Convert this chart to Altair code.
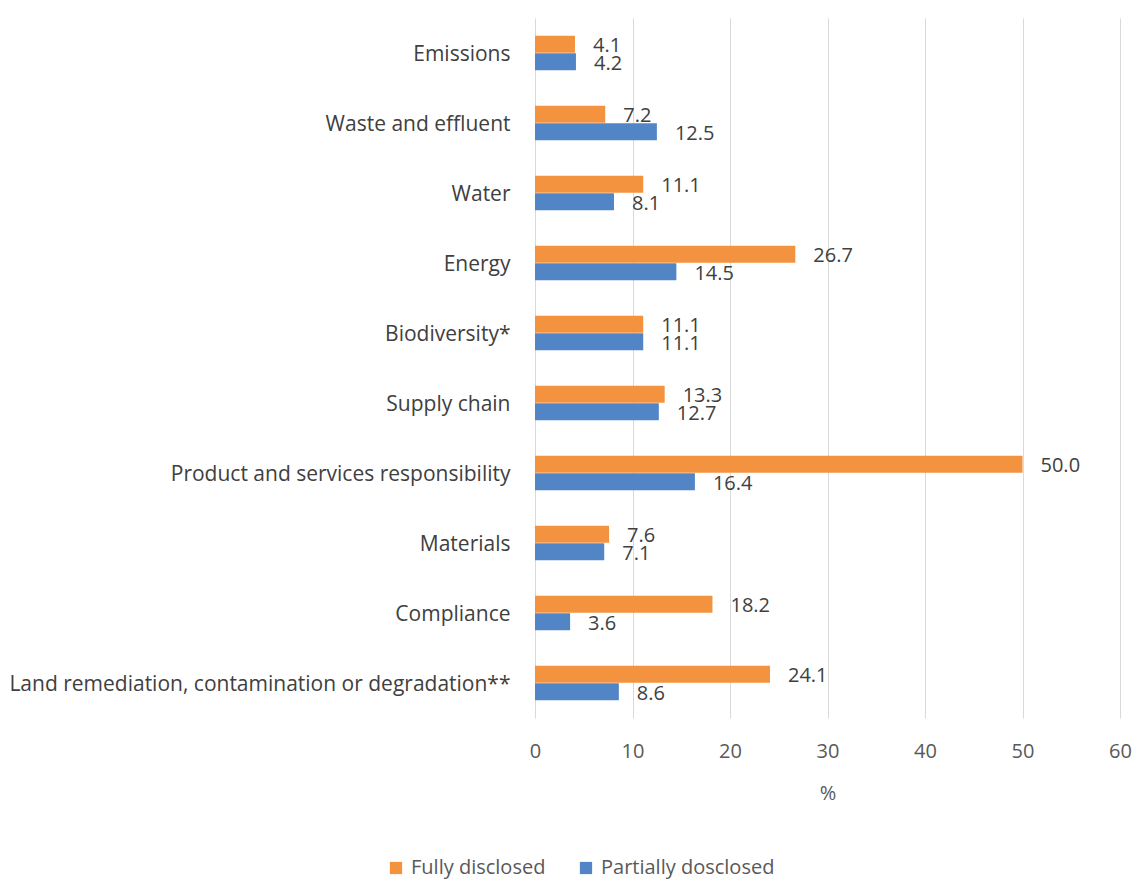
import altair as alt
import pandas as pd

categories = [
    "Emissions",
    "Waste and effluent",
    "Water",
    "Energy",
    "Biodiversity*",
    "Supply chain",
    "Product and services responsibility",
    "Materials",
    "Compliance",
    "Land remediation, contamination or degradation**",
]
fully = [4.1, 7.2, 11.1, 26.7, 11.1, 13.3, 50.0, 7.6, 18.2, 24.1]
partial = [4.2, 12.5, 8.1, 14.5, 11.1, 12.7, 16.4, 7.1, 3.6, 8.6]
series_names = ["Fully disclosed", "Partially dosclosed"]
series_colors = ["#F39340", "#5285C6"]
x_ticks = [0, 10, 20, 30, 40, 50, 60]

rows = []
for c, f, p in zip(categories, fully, partial):
    rows.append({"category": c, "series": series_names[0], "value": f})
    rows.append({"category": c, "series": series_names[1], "value": p})
df = pd.DataFrame(rows)

FONT = "Open Sans"

y_enc = alt.Y(
    "category:N",
    sort=categories,
    scale=alt.Scale(paddingInner=0.5, paddingOuter=0.25),
    axis=alt.Axis(
        title=None,
        domain=False,
        ticks=False,
        labelPadding=25,
        labelFontSize=21,
        labelColor="#404040",
        labelFont=FONT,
        labelLimit=600,
        labelOffset=2,
    ),
)
yoff = alt.YOffset("series:N", sort=series_names)

base = alt.Chart(df)

bars = base.mark_bar(size=17).encode(
    y=y_enc,
    yOffset=yoff,
    x=alt.X(
        "value:Q",
        scale=alt.Scale(domain=[0, 60], nice=False),
        axis=alt.Axis(
            values=x_ticks,
            title="%",
            titleFontSize=20,
            titleFontWeight="normal",
            titleColor="#595959",
            titleFont=FONT,
            titlePadding=22,
            domain=False,
            ticks=False,
            labelFlush=False,
            labelPadding=23,
            labelFontSize=20,
            labelColor="#595959",
            labelFont=FONT,
            grid=True,
            gridColor="#D9D9D9",
        ),
    ),
    color=alt.Color(
        "series:N",
        sort=series_names,
        scale=alt.Scale(domain=series_names, range=series_colors),
        legend=alt.Legend(
            title=None,
            orient="none",
            direction="horizontal",
            legendX=-149,
            legendY=840,
            symbolType="square",
            symbolSize=150,
            symbolStrokeWidth=0,
            labelFontSize=20,
            labelColor="#595959",
            labelFont=FONT,
            labelLimit=400,
            labelOffset=5,
            columnPadding=30,
        ),
    ),
)

labels = base.mark_text(
    align="left", baseline="middle", dx=18, dy=2, fontSize=20, color="#404040", font=FONT
).encode(
    y=alt.Y("category:N", sort=categories),
    yOffset=yoff,
    x="value:Q",
    text=alt.Text("value:Q", format=".1f"),
)

chart = (
    alt.layer(bars, labels)
    .properties(
        width=585,
        height=700,
        autosize=alt.AutoSizeParams(type="none"),
        padding={"left": 535, "top": 18, "right": 14, "bottom": 161},
    )
    .configure_view(stroke=None)
    .configure_axis(gridColor="#D9D9D9")
)

chart.save("out.html", embed_options={"renderer": "svg", "actions": False})
